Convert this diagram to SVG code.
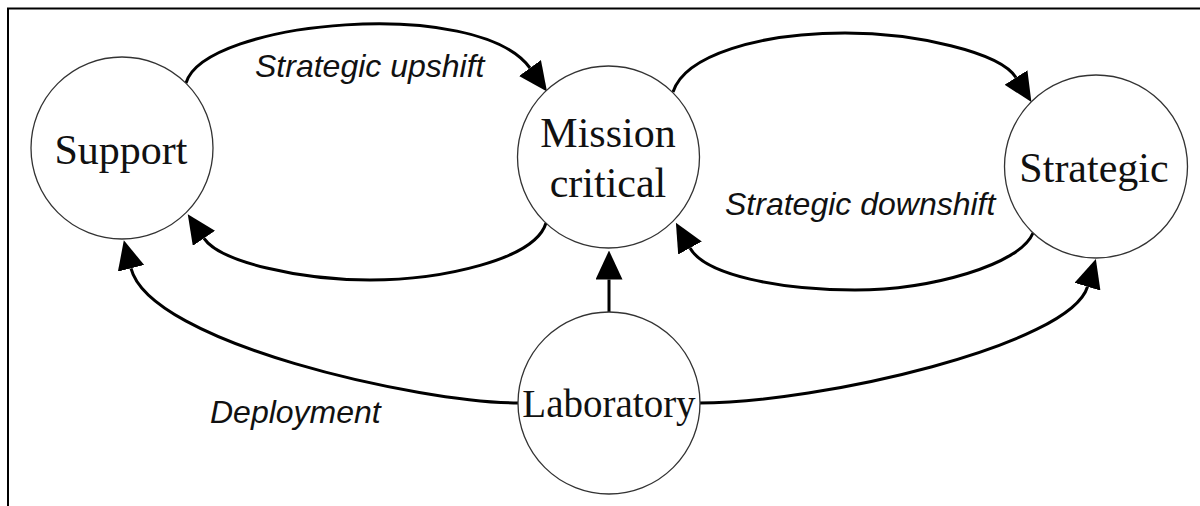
<svg xmlns="http://www.w3.org/2000/svg" width="1200" height="506" viewBox="0 0 1200 506">
  <defs>
    <marker id="arrow" viewBox="0 0 29 27" refX="0" refY="13.5" markerWidth="29" markerHeight="27" markerUnits="userSpaceOnUse" orient="auto">
      <path d="M0,0 L29,13.5 L0,27 z" fill="#000"/>
    </marker>
    <style>
      .node circle { fill: #fff; stroke: #333; stroke-width: 1.3; }
      .node text { font-family: "Liberation Serif", "Times New Roman", serif; font-size: 42px; fill: #111; text-anchor: middle; }
      .edge { fill: none; stroke: #000; stroke-width: 3; marker-end: url(#arrow); }
      .label { font-family: "Liberation Sans", Arial, sans-serif; font-size: 32px; font-style: italic; fill: #111; }
      .frame { fill: none; stroke: #000; stroke-width: 2; }
    </style>
  </defs>

  <rect width="1200" height="506" fill="#fff"/>
  <path class="frame" d="M8,506 V8.5 H1200"/>

  <g id="connectors">
    <!-- Support -> Mission critical (upshift) -->
    <path class="edge" d="M186,83 C205,20 478,-4 530,68"/>
    <!-- Mission critical -> Strategic -->
    <path class="edge" d="M673,92 C685,55 760,33 845,33 C915,33 1000,52 1016,77.5"/>
    <!-- Mission critical -> Support -->
    <path class="edge" d="M546,223 C535,260 440,280 370,280 C300,280 220,262 204,238.3"/>
    <!-- Strategic -> Mission critical (downshift) -->
    <path class="edge" d="M1033,233 C1020,265 930,290 855,290 C780,290 705,275 690,248"/>
    <!-- Laboratory -> Support (deployment) -->
    <path class="edge" d="M519,403 C420,403 150,343 131,268.3"/>
    <!-- Laboratory -> Mission critical -->
    <path class="edge" d="M609,312 V279.5"/>
    <!-- Laboratory -> Strategic -->
    <path class="edge" d="M699,403 C820,403 1070,345 1087.5,286.7"/>

    <text class="label" x="255" y="77">Strategic upshift</text>
    <text class="label" x="725" y="215">Strategic downshift</text>
    <text class="label" x="210" y="423">Deployment</text>
  </g>

  <g id="node-support" class="node">
    <circle cx="122" cy="148" r="91"/>
    <text x="121" y="164">Support</text>
  </g>

  <g id="node-mission-critical" class="node">
    <circle cx="608.5" cy="157" r="91"/>
    <text x="608" y="147">Mission</text>
    <text x="608" y="197">critical</text>
  </g>

  <g id="node-strategic" class="node">
    <circle cx="1096" cy="166.5" r="91.5"/>
    <text x="1094" y="182">Strategic</text>
  </g>

  <g id="node-laboratory" class="node">
    <circle cx="609" cy="403" r="91"/>
    <text x="609" y="417" style="font-size:39px">Laboratory</text>
  </g>
</svg>
